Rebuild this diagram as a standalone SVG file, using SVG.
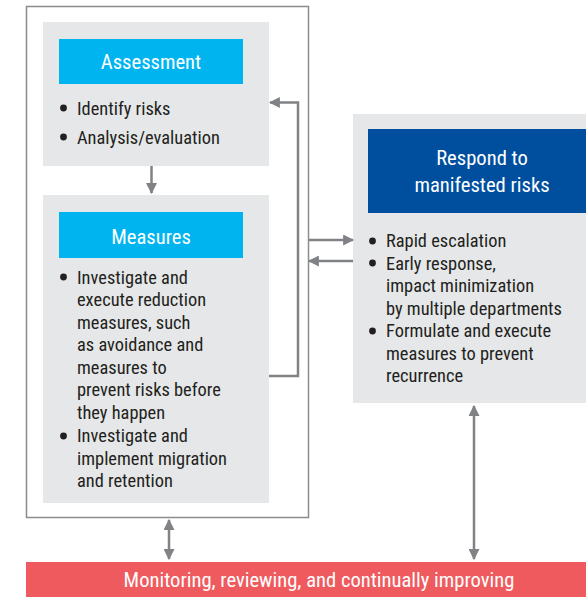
<svg xmlns="http://www.w3.org/2000/svg" width="586" height="597" viewBox="0 0 586 597">
<defs>
<style>
.body{font-family:"Liberation Sans Narrow","Roboto Condensed","Liberation Sans",Arial,sans-serif;font-size:18.4px;fill:#231f20}
.hd{font-family:"Liberation Sans Narrow","Roboto Condensed","Liberation Sans",Arial,sans-serif;font-size:20.6px;fill:#ffffff;text-anchor:middle}
.panel{fill:#e6e7e8}
.conn{stroke:#808285;stroke-width:2.5;fill:none}
</style>
<marker id="ah" viewBox="0 0 10 10" refX="9" refY="5" markerWidth="4.4" markerHeight="4.4" orient="auto-start-reverse" markerUnits="strokeWidth">
<path d="M0,0 L10,5 L0,10 z" fill="#808285"/>
</marker>
</defs>
<rect width="586" height="597" fill="#ffffff"/>
<g id="outer">
<rect x="26.5" y="6.5" width="282" height="511" fill="#ffffff" stroke="#8c8c8c" stroke-width="1.5"/>
</g>
<g id="assessment">
<rect class="panel" x="43" y="22" width="226" height="144"/>
<rect x="59" y="39" width="184" height="45" fill="#00b5ef"/>
<text class="hd" x="151" y="69">Assessment</text>
<circle cx="63.5" cy="108" r="3.4" fill="#231f20"/>
<text class="body" x="77" y="114.5">Identify risks</text>
<circle cx="63.5" cy="137" r="3.4" fill="#231f20"/>
<text class="body" x="77" y="143.5">Analysis/evaluation</text>
</g>
<g id="measures">
<rect class="panel" x="43" y="195" width="226" height="308"/>
<rect x="59" y="212" width="184" height="46" fill="#00b5ef"/>
<text class="hd" x="151" y="244">Measures</text>
<circle cx="63.5" cy="277" r="3.4" fill="#231f20"/>
<text class="body" x="77" y="283.5">Investigate and</text>
<text class="body" x="77" y="306">execute reduction</text>
<text class="body" x="77" y="328.5">measures, such</text>
<text class="body" x="77" y="351">as avoidance and</text>
<text class="body" x="77" y="373.5">measures to</text>
<text class="body" x="77" y="396">prevent risks before</text>
<text class="body" x="77" y="418.5">they happen</text>
<circle cx="63.5" cy="436" r="3.4" fill="#231f20"/>
<text class="body" x="77" y="442">Investigate and</text>
<text class="body" x="77" y="464.5">implement migration</text>
<text class="body" x="77" y="487">and retention</text>
</g>
<g id="respond">
<rect class="panel" x="353" y="114" width="233" height="289"/>
<rect x="368" y="129" width="218" height="84" fill="#004f9f"/>
<text class="hd" x="482" y="165">Respond to</text>
<text class="hd" x="482" y="192">manifested risks</text>
<circle cx="372.5" cy="241" r="3.4" fill="#231f20"/>
<text class="body" x="386" y="247">Rapid escalation</text>
<circle cx="372.5" cy="263" r="3.4" fill="#231f20"/>
<text class="body" x="386" y="269.5">Early response,</text>
<text class="body" x="386" y="292">impact minimization</text>
<text class="body" x="386" y="314.5">by multiple departments</text>
<circle cx="372.5" cy="331" r="3.4" fill="#231f20"/>
<text class="body" x="386" y="337">Formulate and execute</text>
<text class="body" x="386" y="359.5">measures to prevent</text>
<text class="body" x="386" y="382">recurrence</text>
</g>
<g id="monitoring">
<rect x="26" y="562" width="560" height="35" fill="#ef5a5e"/>
<text class="hd" x="319" y="587">Monitoring, reviewing, and continually improving</text>
</g>
<g id="connectors">
<line class="conn" x1="151.5" y1="166" x2="151.5" y2="193" marker-end="url(#ah)"/>
<polyline class="conn" points="269,376 298,376 298,102.5 270,102.5" marker-end="url(#ah)"/>
<line class="conn" x1="309" y1="240" x2="353" y2="240" marker-end="url(#ah)"/>
<line class="conn" x1="353" y1="261" x2="309" y2="261" marker-end="url(#ah)"/>
<line class="conn" x1="169" y1="520" x2="169" y2="559" marker-start="url(#ah)" marker-end="url(#ah)"/>
<line class="conn" x1="474" y1="406" x2="474" y2="559" marker-start="url(#ah)" marker-end="url(#ah)"/>
</g>
</svg>
